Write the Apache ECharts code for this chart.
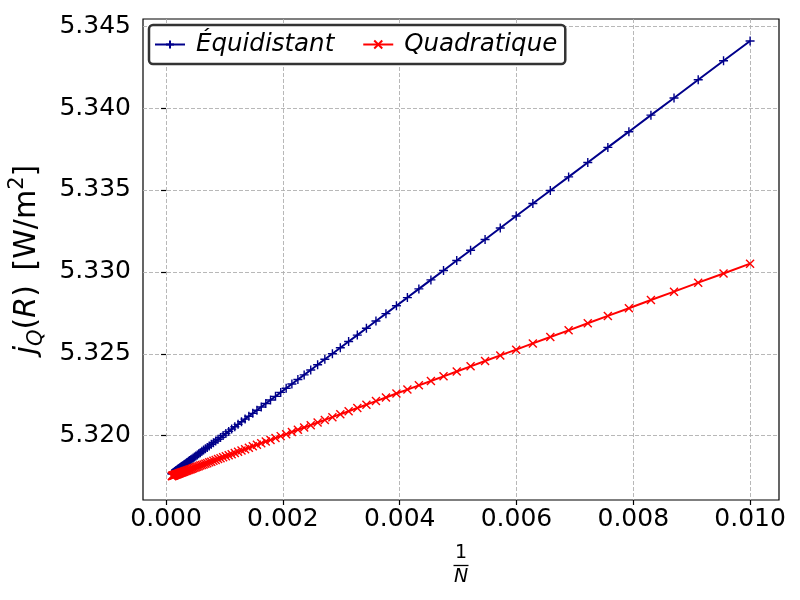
<!DOCTYPE html>
<html>
<head>
<meta charset="utf-8">
<script src="https://cdn.jsdelivr.net/npm/echarts@6/dist/echarts.min.js"></script>
<style>
  html, body { margin: 0; padding: 0; background: #fff; }
  #chart { width: 800px; height: 600px; }
</style>
</head>
<body>
<div id="chart"></div>
<script>
// x = 1/N, N from 100 to 10000 (100 log-spaced values)
const invN = [
  0.00010000, 0.00010476, 0.00010975, 0.00011498, 0.00012045, 0.00012619, 0.00013219, 0.00013849, 0.00014508, 0.00015199,
  0.00015923, 0.00016681, 0.00017475, 0.00018307, 0.00019179, 0.00020092, 0.00021049, 0.00022051, 0.00023101, 0.00024201,
  0.00025354, 0.00026561, 0.00027826, 0.00029150, 0.00030539, 0.00031993, 0.00033516, 0.00035112, 0.00036784, 0.00038535,
  0.00040370, 0.00042292, 0.00044306, 0.00046416, 0.00048626, 0.00050941, 0.00053367, 0.00055908, 0.00058570, 0.00061359,
  0.00064281, 0.00067342, 0.00070548, 0.00073907, 0.00077426, 0.00081113, 0.00084975, 0.00089022, 0.00093260, 0.00097701,
  0.0010235, 0.0010723, 0.0011233, 0.0011769, 0.0012328, 0.0012916, 0.0013530, 0.0014175, 0.0014849, 0.0015557,
  0.0016298, 0.0017074, 0.0017886, 0.0018738, 0.0019630, 0.0020565, 0.0021544, 0.0022570, 0.0023645, 0.0024771,
  0.0025951, 0.0027186, 0.0028481, 0.0029836, 0.0031258, 0.0032746, 0.0034305, 0.0035938, 0.0037649, 0.0039442,
  0.0041320, 0.0043287, 0.0045349, 0.0047508, 0.0049770, 0.0052140, 0.0054623, 0.0057224, 0.0059948, 0.0062803,
  0.0065794, 0.0068927, 0.0072208, 0.0075646, 0.0079248, 0.0083022, 0.0086975, 0.0091117, 0.0095454, 0.0100000
];

const equidistant = [
  5.31767, 5.31768, 5.31769, 5.31771, 5.31772, 5.31774, 5.31775, 5.31777, 5.31779, 5.31781,
  5.31783, 5.31785, 5.31787, 5.31789, 5.31791, 5.31794, 5.31796, 5.31799, 5.31802, 5.31805,
  5.31808, 5.31811, 5.31814, 5.31818, 5.31822, 5.31825, 5.31829, 5.31834, 5.31838, 5.31843,
  5.31848, 5.31853, 5.31858, 5.31864, 5.31870, 5.31876, 5.31882, 5.31889, 5.31896, 5.31904,
  5.31912, 5.31920, 5.31928, 5.31937, 5.31947, 5.31957, 5.31967, 5.31978, 5.31989, 5.32001,
  5.32013, 5.32026, 5.32040, 5.32054, 5.32069, 5.32085, 5.32101, 5.32118, 5.32136, 5.32155,
  5.32175, 5.32196, 5.32218, 5.32240, 5.32264, 5.32289, 5.32315, 5.32343, 5.32371, 5.32401,
  5.32433, 5.32466, 5.32500, 5.32537, 5.32575, 5.32614, 5.32656, 5.32700, 5.32745, 5.32793,
  5.32843, 5.32896, 5.32951, 5.33008, 5.33069, 5.33132, 5.33198, 5.33268, 5.33341, 5.33417,
  5.33497, 5.33580, 5.33668, 5.33760, 5.33856, 5.33957, 5.34062, 5.34173, 5.34289, 5.34410
];

const quadratique = [
  5.31753, 5.31754, 5.31754, 5.31755, 5.31756, 5.31757, 5.31757, 5.31758, 5.31759, 5.31760,
  5.31761, 5.31762, 5.31763, 5.31764, 5.31765, 5.31766, 5.31768, 5.31769, 5.31770, 5.31772,
  5.31773, 5.31775, 5.31776, 5.31778, 5.31780, 5.31782, 5.31784, 5.31786, 5.31788, 5.31790,
  5.31793, 5.31795, 5.31798, 5.31801, 5.31804, 5.31807, 5.31810, 5.31813, 5.31817, 5.31820,
  5.31824, 5.31828, 5.31832, 5.31837, 5.31841, 5.31846, 5.31851, 5.31857, 5.31862, 5.31868,
  5.31874, 5.31880, 5.31887, 5.31894, 5.31902, 5.31909, 5.31917, 5.31926, 5.31935, 5.31944,
  5.31954, 5.31964, 5.31974, 5.31985, 5.31997, 5.32009, 5.32022, 5.32036, 5.32050, 5.32064,
  5.32080, 5.32096, 5.32113, 5.32131, 5.32149, 5.32169, 5.32189, 5.32211, 5.32233, 5.32257,
  5.32281, 5.32307, 5.32334, 5.32362, 5.32392, 5.32423, 5.32456, 5.32490, 5.32525, 5.32563,
  5.32602, 5.32643, 5.32686, 5.32731, 5.32778, 5.32828, 5.32879, 5.32934, 5.32990, 5.33050
];

const xTicks = [0.000, 0.002, 0.004, 0.006, 0.008, 0.010];
const yTicks = [5.320, 5.325, 5.330, 5.335, 5.340, 5.345];

const FONT = 'DejaVu Sans';
const PLUS = 'path://M0,5L10,5M5,0L5,10';
const CROSS = 'path://M0,0L10,10M0,10L10,0';

const chart = echarts.init(document.getElementById('chart'), null, { renderer: 'canvas' });

const gridLine = { show: true, lineStyle: { color: '#b0b0b0', width: 0.9, type: [4, 2] } };

const option = {
  animation: false,
  backgroundColor: '#fff',
  textStyle: { fontFamily: FONT },
  grid: {
    left: 143, right: 21, top: 19, bottom: 100,
    outerBoundsMode: 'none',
    containLabel: false,
    show: true, borderColor: '#000', borderWidth: 1.2, backgroundColor: '#fff'
  },
  legend: {
    left: 149, top: 25,
    itemWidth: 30, itemHeight: 10, itemGap: 28,
    padding: [7, 8, 7, 5],
    borderColor: '#333', borderWidth: 2.5, borderRadius: 4,
    backgroundColor: '#fff',
    textStyle: { fontFamily: FONT, fontStyle: 'italic', fontSize: 24.5, color: '#000', padding: [0, 0, 0, 6] },
    data: ['Équidistant', 'Quadratique']
  },
  xAxis: {
    type: 'value',
    min: -0.000395, max: 0.010495,
    name: '{num|1}\n{bar|}\n{den|N}',
    nameLocation: 'middle',
    nameGap: 44,
    nameTextStyle: {
      align: 'center',
      rich: {
        num: { fontFamily: FONT, fontSize: 19, lineHeight: 19, color: '#000', align: 'center' },
        bar: { width: 15, height: 1.3, backgroundColor: '#000', lineHeight: 5, align: 'center' },
        den: { fontFamily: FONT, fontSize: 19, fontStyle: 'italic', lineHeight: 19, color: '#000', align: 'center' }
      }
    },
    axisLine: { show: false },
    axisTick: { show: true, length: 5, lineStyle: { color: '#000', width: 1.2 }, customValues: xTicks },
    axisLabel: {
      customValues: xTicks,
      fontFamily: FONT, fontSize: 25, color: '#000', margin: 7,
      formatter: v => v.toFixed(3)
    },
    splitLine: gridLine
  },
  yAxis: {
    type: 'value',
    min: 5.31607, max: 5.34544,
    name: '{i|j}{sub|Q}{n|(}{i|R}{n|) }{sp| }{n|[W/m}{sup|2}{n|]}',
    nameLocation: 'middle',
    nameRotate: 90,
    nameGap: 96,
    nameTextStyle: {
      rich: {
        n: { fontFamily: FONT, fontSize: 30, color: '#000', lineHeight: 40 },
        sp: { fontFamily: FONT, fontSize: 16, color: '#000', lineHeight: 40 },
        i: { fontFamily: FONT, fontSize: 30, fontStyle: 'italic', color: '#000', lineHeight: 40 },
        sub: { fontFamily: FONT, fontSize: 21, fontStyle: 'italic', color: '#000', verticalAlign: 'bottom', lineHeight: 40 },
        sup: { fontFamily: FONT, fontSize: 21, color: '#000', verticalAlign: 'top', lineHeight: 40 }
      }
    },
    axisLine: { show: false },
    axisTick: { show: true, length: 5, lineStyle: { color: '#000', width: 1.2 }, customValues: yTicks },
    axisLabel: {
      customValues: yTicks,
      fontFamily: FONT, fontSize: 25, color: '#000', margin: 12,
      formatter: v => v.toFixed(3)
    },
    splitLine: gridLine
  },
  series: [
    {
      name: 'Équidistant',
      type: 'line',
      data: invN.map((x, i) => [x, equidistant[i]]),
      symbol: PLUS,
      symbolSize: 9,
      lineStyle: { color: '#00008b', width: 2 },
      itemStyle: { color: '#00008b', borderColor: '#00008b', borderWidth: 1.4 },
      z: 2
    },
    {
      name: 'Quadratique',
      type: 'line',
      data: invN.map((x, i) => [x, quadratique[i]]),
      symbol: CROSS,
      symbolSize: 8,
      lineStyle: { color: '#ff0000', width: 2 },
      itemStyle: { color: '#ff0000', borderColor: '#ff0000', borderWidth: 1.4 },
      z: 3
    }
  ]
};

chart.setOption(option);
</script>
</body>
</html>
